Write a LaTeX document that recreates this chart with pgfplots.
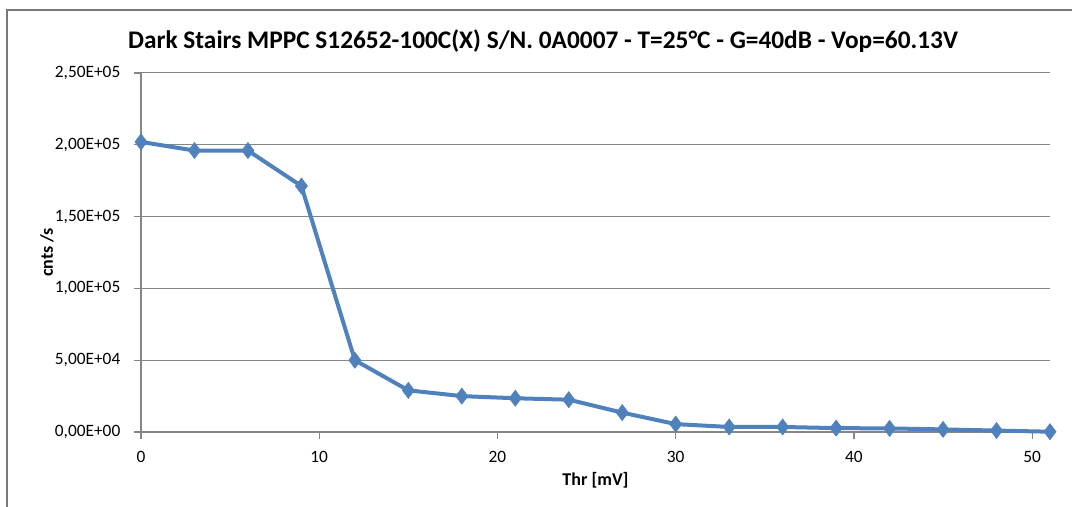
\documentclass[border=0pt]{standalone}
\usepackage{fontspec}
\setmainfont{Carlito}
\usepackage{pgfplots}
\pgfplotsset{compat=1.18}
\definecolor{xlblue}{RGB}{79,129,189}
\definecolor{xlgrid}{RGB}{134,134,134}
\definecolor{xlframe}{RGB}{120,120,120}
\begin{document}
\begin{tikzpicture}[x=0.75pt,y=0.75pt]
% chart area, pixel units with y up
\useasboundingbox (0,0) rectangle (1072,507);
\draw[xlframe,line width=1.5pt] (6.5,0) -- (6.5,496.5);
\fill[xlframe] (6,495.5) rectangle (1072,498);
\node[font=\bfseries\fontsize{19}{22}\selectfont] at (543,466) {Dark Stairs MPPC S12652-100C(X) S/N. 0A0007 - T=25°C - G=40dB - Vop=60.13V};
\begin{axis}[
  at={(105.75pt,56.25pt)}, anchor=south west,
  width=681.75pt, height=269.25pt, scale only axis,
  xmin=0, xmax=51, ymin=0, ymax=250000,
  axis x line*=bottom, axis y line*=left,
  axis line style={-, draw=xlgrid, line width=0.9pt},
  xtick={0,10,20,30,40,50},
  ytick={0,50000,100000,150000,200000,250000},
  yticklabels={{0,00E+00},{5,00E+04},{1,00E+05},{1,50E+05},{2,00E+05},{2,50E+05}},
  scaled y ticks=false,
  xtick pos=bottom, ytick pos=left,
  xtick align=outside, ytick align=outside, major tick length=5pt,
  xtick style={draw=xlgrid, line width=1pt},
  ytick style={draw=xlgrid, line width=1pt},
  ymajorgrids, grid style={draw=xlgrid, line width=0.75pt},
  every tick label/.append style={font=\fontsize{13}{15}\selectfont},
  yticklabel style={anchor=east, xshift=-7pt},
  xticklabel style={anchor=north, yshift=-6pt},
  /pgf/number format/assume math mode=true,
  xlabel={\textbf{Thr [mV]}}, ylabel={\textbf{cnts /s}},
  every axis label/.append style={font=\fontsize{13.5}{16}\selectfont},
  xlabel style={yshift=0pt},
  ylabel style={yshift=-6pt},
  clip=false,
]
\addplot[xlblue, line width=3pt, mark=diamond*, mark size=6pt,
  mark options={fill=xlblue, draw=xlblue, line width=0.5pt}] coordinates {
(0,202000) (3,196000) (6,196000) (9,171300) (12,50000) (15,29000)
(18,25000) (21,23500) (24,22500) (27,13500) (30,5500) (33,3500)
(36,3500) (39,2700) (42,2500) (45,1800) (48,1000) (51,200)
};
\end{axis}
\end{tikzpicture}
\end{document}
